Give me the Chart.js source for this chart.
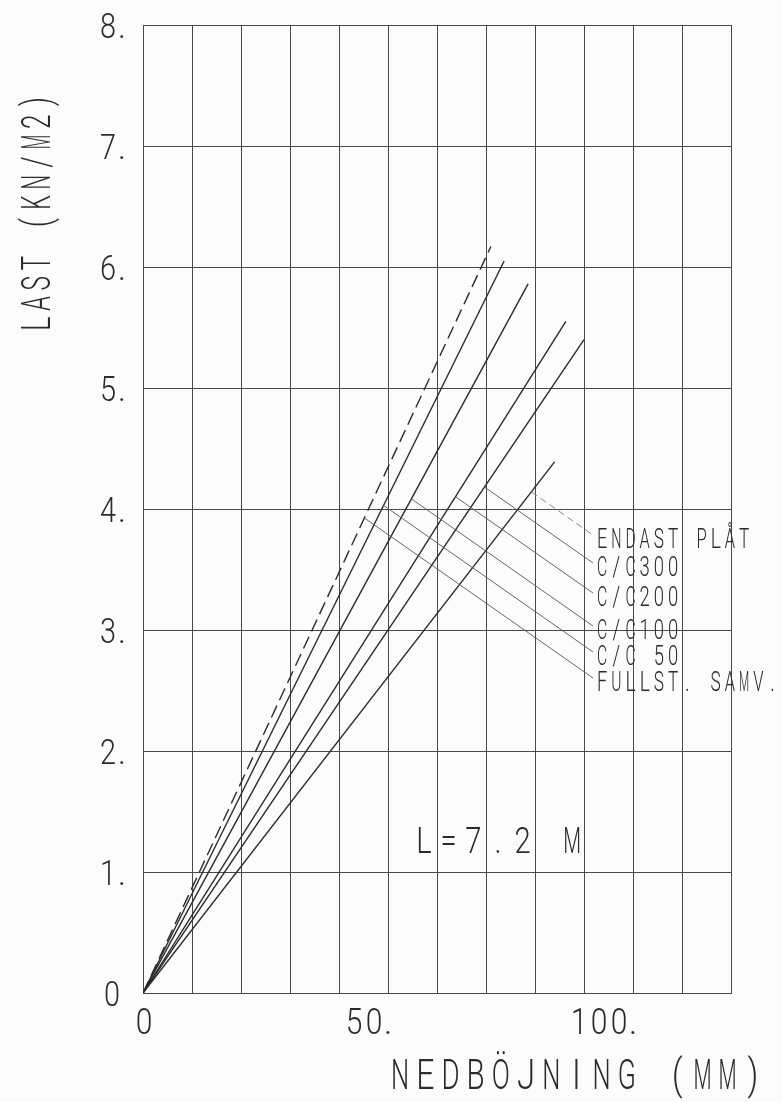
<!DOCTYPE html>
<html><head><meta charset="utf-8">
<script src="https://cdn.jsdelivr.net/npm/chart.js@4.4.1/dist/chart.umd.min.js"></script>
<style>html,body{margin:0;padding:0;background:#fcfcfc}canvas{display:block}</style>
</head><body>
<canvas id="c" width="782" height="1102"></canvas>
<script>
// ---- data ----
const seriesNames   = ["ENDAST PLÅT", "C/C300", "C/C200", "C/C100", "C/C 50", "FULLST. SAMV."];
const endDeflection = [84.0, 90.0, 86.3, 78.6, 73.7, 71.0];   // mm at end of line
const endLoad       = [4.39, 5.40, 5.55, 5.86, 6.05, 6.17];   // kN/m2 at end of line
const xTickValues = [0, 50, 100];
const xTickLabels = ["0", "50.", "100."];
const yTickValues = [0, 1, 2, 3, 4, 5, 6, 7, 8];
const yTickLabels = ["0", "1.", "2.", "3.", "4.", "5.", "6.", "7.", "8."];
const xTitle = "NEDBÖJNING (MM)";
const yTitle = "LAST (KN/M2)";
const spanNote = "L=7.2 M";

// ---- layout / style ----
const INK = "#2b2b2b";
const GRID = "#484848";
const FONT = 'Roboto, "DejaVu Sans", sans-serif';
const labelLeft = 597, anchorX = 593;
const labelCenterY = [538, 566, 596, 629, 655, 681];

function drawMono(ctx, str, x0, yBase, cap, pitch, sx) {
  const size = cap / 0.711;
  ctx.font = `300 ${size}px ${FONT}`;
  ctx.textAlign = "center";
  ctx.textBaseline = "alphabetic";
  const maxW = 0.72 * pitch;
  let cx = x0 + 0.36 * pitch;
  for (const ch of str) {
    if (ch !== " ") {
      const w = ctx.measureText(ch).width * sx;
      const s = w > maxW ? sx * maxW / w : sx;
      ctx.save(); ctx.translate(cx, yBase); ctx.scale(s, 1);
      ctx.fillText(ch, 0, 0); ctx.restore();
    }
    cx += pitch;
  }
}
// number label: decimal point placed at xDot; digits to its left
function drawNum(ctx, label, xDot, yBase, cap, pitch, sx, noDotCenterShift) {
  const size = cap / 0.711;
  ctx.font = `300 ${size}px ${FONT}`;
  ctx.textAlign = "center"; ctx.textBaseline = "alphabetic";
  const hasDot = label.endsWith(".");
  const digits = hasDot ? label.slice(0, -1) : label;
  let cx = hasDot ? xDot - 14 : xDot + noDotCenterShift;
  for (let i = digits.length - 1; i >= 0; i--) {
    ctx.save(); ctx.translate(cx, yBase); ctx.scale(sx, 1);
    ctx.fillText(digits[i], 0, 0); ctx.restore();
    cx -= pitch;
  }
  if (hasDot) { ctx.fillText(".", xDot, yBase); }
}

const textPlugin = {
  id: "plotterText",
  afterDatasetsDraw(chart) {
    const ctx = chart.ctx, xs = chart.scales.x, ys = chart.scales.y;
    ctx.save();
    // leader lines from labels to their curves
    ctx.lineWidth = 0.9;
    seriesNames.forEach((name, i) => {
      const ax = anchorX, ay = labelCenterY[i] - 3;
      const x0 = xs.getPixelForValue(0), y0 = ys.getPixelForValue(0);
      const x1 = xs.getPixelForValue(endDeflection[i]), y1 = ys.getPixelForValue(endLoad[i]);
      const m = (y1 - y0) / (x1 - x0);           // series slope (px)
      const k = 0.70;                            // leader slope (px)
      const x = (ay - k * ax - y0 + m * x0) / (m - k);
      const y = y0 + m * (x - x0);
      ctx.strokeStyle = i === 0 ? "#777" : "#555";
      ctx.setLineDash(i === 0 ? [7, 4] : []);
      ctx.beginPath(); ctx.moveTo(x, y); ctx.lineTo(ax, ay); ctx.stroke();
    });
    ctx.setLineDash([]);
    ctx.fillStyle = INK;
    // y tick labels
    yTickValues.forEach((v, i) => {
      const py = ys.getPixelForValue(v);
      drawNum(ctx, yTickLabels[i], 122, py + 12.5, 25, 20, 0.82, -10);
    });
    // x tick labels
    xTickValues.forEach((v, i) => {
      const px = xs.getPixelForValue(v);
      drawNum(ctx, xTickLabels[i], px, 1034, 26, 20, 0.82, 1);
    });
    // series labels
    seriesNames.forEach((name, i) => {
      drawMono(ctx, name, labelLeft, labelCenterY[i] + 9.5, 19, 14.2, 0.72);
    });
    // note
    drawMono(ctx, spanNote, 415, 853, 26, 24.7, 0.8);
    // x title
    drawMono(ctx, xTitle, 391, 1089, 30, 25.2, 0.78);
    // y title (rotated)
    ctx.save(); ctx.translate(50, 331); ctx.rotate(-Math.PI / 2);
    drawMono(ctx, yTitle, 0, 0, 29, 20.2, 0.7);
    ctx.restore();
    ctx.restore();
  }
};

const datasets = seriesNames.map((name, i) => ({
  label: name,
  data: [{ x: 0, y: 0 }, { x: endDeflection[i], y: endLoad[i] }],
  showLine: true,
  borderColor: INK,
  borderWidth: 1.4,
  pointRadius: 0,
  borderDash: i === seriesNames.length - 1 ? [13, 6] : [],
  fill: false
}));

new Chart(document.getElementById("c"), {
  type: "scatter",
  data: { datasets },
  options: {
    responsive: false, animation: false, devicePixelRatio: 1,
    layout: { padding: { left: 143, right: 51, top: 25, bottom: 109 } },
    plugins: { legend: { display: false }, tooltip: { enabled: false } },
    scales: {
      x: {
        type: "linear", min: 0, max: 120,
        ticks: { stepSize: 10, display: false },
        grid: { color: GRID, lineWidth: 1, drawTicks: false },
        border: { color: GRID, width: 1 },
        afterFit: s => { s.height = 0; }
      },
      y: {
        type: "linear", min: 0, max: 8,
        ticks: { stepSize: 1, display: false },
        grid: { color: GRID, lineWidth: 1, drawTicks: false },
        border: { color: GRID, width: 1 },
        afterFit: s => { s.width = 0; }
      }
    }
  },
  plugins: [textPlugin]
});
</script>
</body></html>
